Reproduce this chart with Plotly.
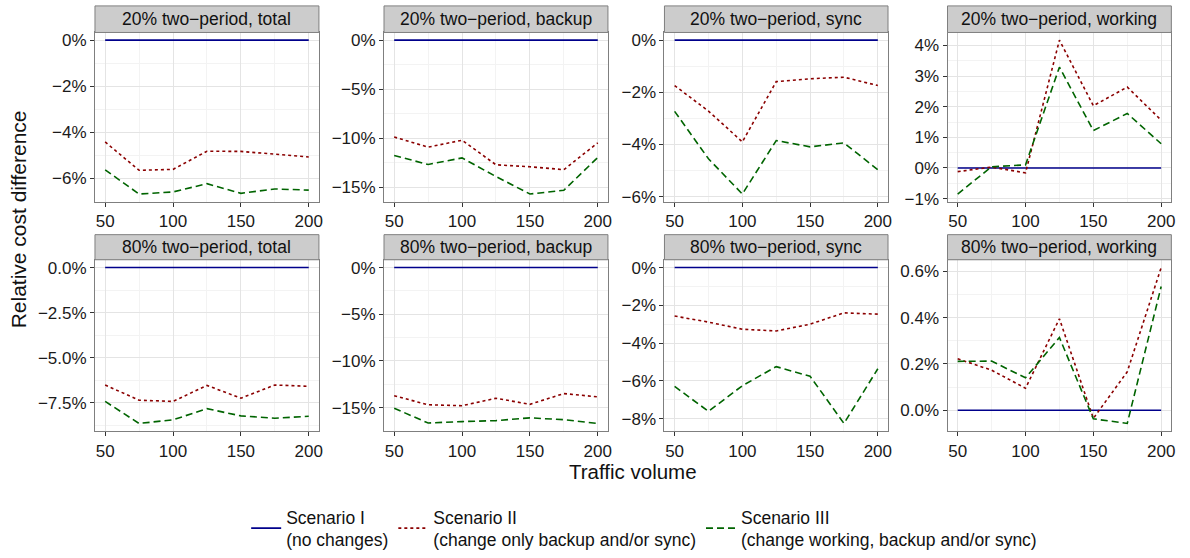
import plotly.graph_objects as go

# ---------------- data ----------------
traffic = [50, 75, 100, 125, 150, 175, 200]

panel_titles = [
    "20% two\u2212period, total", "20% two\u2212period, backup",
    "20% two\u2212period, sync", "20% two\u2212period, working",
    "80% two\u2212period, total", "80% two\u2212period, backup",
    "80% two\u2212period, sync", "80% two\u2212period, working",
]

scenario1 = [0, 0, 0, 0, 0, 0, 0]

total20_s2 = [-4.42, -5.65, -5.61, -4.82, -4.83, -4.96, -5.07]
total20_s3 = [-5.63, -6.68, -6.59, -6.23, -6.65, -6.46, -6.51]
backup20_s2 = [-9.87, -10.9, -10.2, -12.7, -12.9, -13.2, -10.46]
backup20_s3 = [-11.75, -12.67, -12.0, -13.9, -15.68, -15.3, -11.95]
sync20_s2 = [-1.74, -2.72, -3.9, -1.59, -1.48, -1.42, -1.74]
sync20_s3 = [-2.73, -4.55, -5.9, -3.85, -4.09, -3.94, -4.97]
working20_s2 = [-0.12, 0.03, -0.16, 4.17, 2.03, 2.64, 1.56]
working20_s3 = [-0.85, 0.04, 0.10, 3.29, 1.22, 1.78, 0.79]

total80_s2 = [-6.51, -7.35, -7.42, -6.53, -7.24, -6.51, -6.58]
total80_s3 = [-7.42, -8.64, -8.44, -7.82, -8.22, -8.35, -8.24]
backup80_s2 = [-13.73, -14.7, -14.8, -14.0, -14.65, -13.5, -13.85]
backup80_s3 = [-15.07, -16.65, -16.5, -16.4, -16.1, -16.3, -16.7]
sync80_s2 = [-2.57, -2.89, -3.27, -3.36, -3.0, -2.4, -2.47]
sync80_s3 = [-6.3, -7.62, -6.26, -5.25, -5.76, -8.26, -5.36]
working80_s2 = [0.222, 0.173, 0.095, 0.395, -0.035, 0.166, 0.616]
working80_s3 = [0.211, 0.212, 0.14, 0.314, -0.037, -0.057, 0.534]

x_ticks = [50, 100, 150, 200]

y_ticks = [
    [0, -2, -4, -6], [0, -5, -10, -15], [0, -2, -4, -6], [-1, 0, 1, 2, 3, 4],
    [0, -2.5, -5, -7.5], [0, -5, -10, -15], [0, -2, -4, -6, -8], [0, 0.2, 0.4, 0.6],
]
y_ticklabels = [
    ["0%", "\u22122%", "\u22124%", "\u22126%"],
    ["0%", "\u22125%", "\u221210%", "\u221215%"],
    ["0%", "\u22122%", "\u22124%", "\u22126%"],
    ["\u22121%", "0%", "1%", "2%", "3%", "4%"],
    ["0.0%", "\u22122.5%", "\u22125.0%", "\u22127.5%"],
    ["0%", "\u22125%", "\u221210%", "\u221215%"],
    ["0%", "\u22122%", "\u22124%", "\u22126%", "\u22128%"],
    ["0.0%", "0.2%", "0.4%", "0.6%"],
]

series_s2 = [total20_s2, backup20_s2, sync20_s2, working20_s2,
             total80_s2, backup80_s2, sync80_s2, working80_s2]
series_s3 = [total20_s3, backup20_s3, sync20_s3, working20_s3,
             total80_s3, backup80_s3, sync80_s3, working80_s3]

scenario_names = [
    "Scenario I<br>(no changes)",
    "Scenario II<br>(change only backup and/or sync)",
    "Scenario III<br>(change working, backup and/or sync)",
]

# ---------------- layout geometry ----------------
W, H = 1190, 558
col_px = [(95.3, 320.0), (385.3, 610.0), (666.7, 891.0), (950.7, 1175.3)]
row_px = [(32.0, 204.0), (263.0, 437.3)]
strip_h = [27.0, 25.5]

FONT = "Liberation Sans, Arial, sans-serif"
C1, C2, C3 = "#00008B", "#8B0000", "#006400"
BORDER = "#7F7F7F"
GRID = "#E4E4E4"
MINOR = "#F3F3F3"

fig = go.Figure()
layout_axes = {}
shapes = []
annotations = []

for i in range(8):
    r, c = divmod(i, 4)
    xa = "x" if i == 0 else f"x{i+1}"
    ya = "y" if i == 0 else f"y{i+1}"
    xkey = "xaxis" if i == 0 else f"xaxis{i+1}"
    ykey = "yaxis" if i == 0 else f"yaxis{i+1}"

    for vals, name, color, dash, idx in [
        (scenario1, scenario_names[0], C1, "solid", 0),
        (series_s2[i], scenario_names[1], C2, "3px,3px", 1),
        (series_s3[i], scenario_names[2], C3, "7px,4px", 2),
    ]:
        fig.add_trace(go.Scatter(
            x=traffic, y=vals, mode="lines", name=name,
            line=dict(color=color, width=1.6, dash=dash),
            xaxis=xa, yaxis=ya, legendgroup=str(idx), showlegend=(i == 0),
            hoverinfo="skip",
        ))

    allv = scenario1 + series_s2[i] + series_s3[i]
    lo, hi = min(allv), max(allv)
    pad = (hi - lo) * 0.05
    xpad = (max(traffic) - min(traffic)) * 0.05
    yt = y_ticks[i]
    ystep = abs(yt[1] - yt[0])

    x0p, x1p = col_px[c]
    y0p, y1p = row_px[r]
    common = dict(
        showline=True, linecolor=BORDER, linewidth=1, mirror=True,
        ticks="outside", ticklen=4, tickcolor="#333333", tickwidth=1,
        showgrid=True, gridcolor=GRID, gridwidth=1, zeroline=False,
        tickfont=dict(family=FONT, size=17, color="#1a1a1a"),
    )
    layout_axes[xkey] = dict(
        common, domain=[x0p / W, x1p / W], anchor=ya,
        range=[min(traffic) - xpad, max(traffic) + xpad],
        tickmode="array", tickvals=x_ticks,
        minor=dict(dtick=25, tick0=0, showgrid=True, gridcolor=MINOR, ticks=""),
    )
    layout_axes[ykey] = dict(
        common, domain=[1 - y1p / H, 1 - y0p / H], anchor=xa,
        range=[lo - pad, hi + pad],
        tickmode="array", tickvals=yt, ticktext=y_ticklabels[i],
        minor=dict(dtick=ystep / 2, tick0=0, showgrid=True, gridcolor=MINOR, ticks=""),
    )

    # facet strip
    sy1 = y0p
    sy0 = y0p - strip_h[r]
    shapes.append(dict(
        type="rect", xref="paper", yref="paper",
        x0=x0p / W, x1=x1p / W, y0=1 - sy0 / H, y1=1 - sy1 / H,
        fillcolor="#CCCCCC", line=dict(color=BORDER, width=1), layer="above",
    ))
    annotations.append(dict(
        text=panel_titles[i], xref="paper", yref="paper",
        x=(x0p + x1p) / 2 / W, y=1 - (sy0 + sy1) / 2 / H,
        xanchor="center", yanchor="middle", showarrow=False,
        font=dict(family=FONT, size=17.5, color="#111111"),
    ))

annotations.append(dict(
    text="Relative cost difference", xref="paper", yref="paper",
    x=18 / W, y=1 - 222 / H, textangle=-90, showarrow=False,
    xanchor="center", yanchor="middle",
    font=dict(family=FONT, size=21, color="#111111"),
))
annotations.append(dict(
    text="Traffic volume", xref="paper", yref="paper",
    x=635 / W, y=1 - 478 / H, showarrow=False,
    xanchor="center", yanchor="middle",
    font=dict(family=FONT, size=20.5, color="#111111"),
))

fig.update_layout(
    width=W, height=H,
    margin=dict(l=0, r=0, t=0, b=0),
    paper_bgcolor="white", plot_bgcolor="white",
    shapes=shapes, annotations=annotations,
    showlegend=True,
    legend=dict(
        orientation="h", x=247 / W, xanchor="left", y=1 - 506 / H, yanchor="top",
        font=dict(family=FONT, size=17.5, color="#111111"),
        itemwidth=30, tracegroupgap=0, bgcolor="rgba(0,0,0,0)",
    ),
    **layout_axes,
)

fig.write_html(
    "out.html",
    config={"displayModeBar": False},
    post_script="document.body.style.margin='0px';document.body.style.overflow='hidden';",
)
